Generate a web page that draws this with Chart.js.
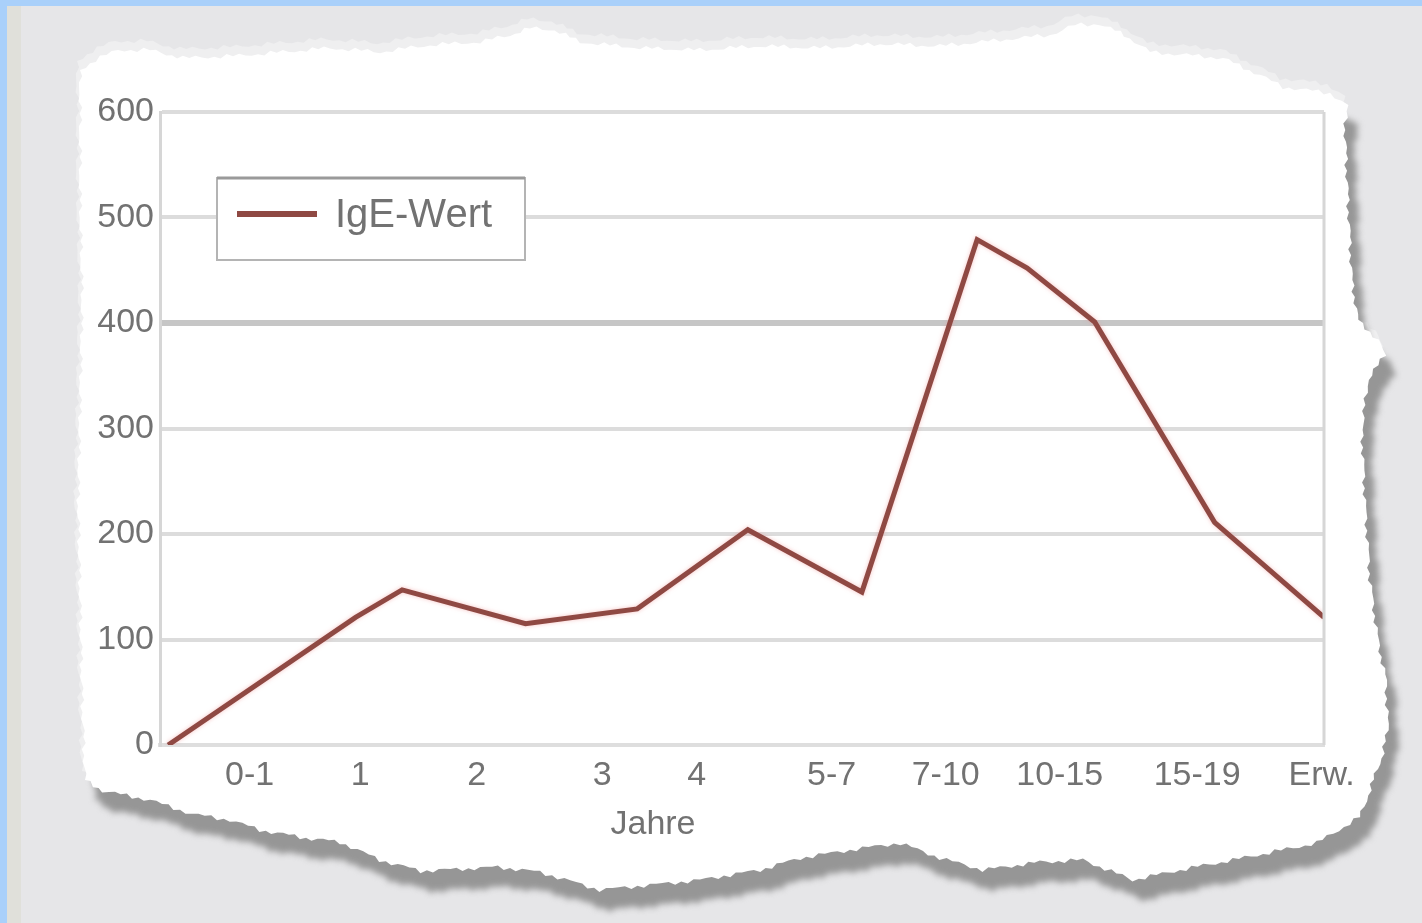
<!DOCTYPE html>
<html lang="de">
<head>
<meta charset="utf-8">
<title>IgE-Wert nach Alter</title>
<script src="https://cdn.jsdelivr.net/npm/chart.js@4/dist/chart.umd.min.js"></script>
<style>
  html, body { margin: 0; padding: 0; background: #e6e6e8; }
  canvas { display: block; }
</style>
</head>
<body>
<canvas id="chart" width="1422" height="923"></canvas>
<script>
// Altersachse: Position (0..100) der Beschriftungen und der Messpunkte
const ageTickPos = [7.7, 17.2, 27.2, 38.0, 46.1, 57.7, 67.5, 77.3, 89.1, 99.8];
const ageTickLabels = ['0-1', '1', '2', '3', '4', '5-7', '7-10', '10-15', '15-19', 'Erw.'];
const agePos = [0.7, 16.8, 20.8, 31.4, 41.0, 50.5, 60.3, 70.2, 74.5, 80.3, 90.6, 100];
const igeValues = [0, 121, 147, 115, 129, 204, 145, 479, 452, 401, 211, 121];
const yTicks = [0, 100, 200, 300, 400, 500, 600];
const xTitle = 'Jahre';

const LINE_COLOR = '#8f4943';
const TEXT_COLOR = '#727272';
const FONT = "'Liberation Sans', Arial, sans-serif";

// Umriss des abgerissenen Papierblatts (Hintergrund)
const paperOutline = [
  [80, 70], [95, 60], [118, 50], [150, 50], [183, 58], [233, 56], [283, 52], [330, 48],
  [380, 52], [430, 45], [480, 42], [510, 35], [530, 28], [555, 30], [580, 42], [640, 48],
  [700, 50], [760, 46], [820, 48], [880, 44], [940, 46], [1000, 40], [1050, 35], [1075, 25],
  [1100, 24], [1125, 35], [1150, 52], [1223, 58], [1260, 75], [1283, 87], [1330, 93], [1347, 105],
  [1345, 130], [1348, 200], [1352, 280], [1358, 320], [1378, 340], [1385, 355], [1368, 380],
  [1362, 430], [1365, 500], [1370, 580], [1378, 640], [1386, 680], [1388, 730], [1383, 753],
  [1370, 790], [1360, 817], [1317, 843], [1233, 860], [1180, 870], [1133, 880], [1083, 860],
  [1040, 862], [983, 870], [940, 858], [900, 843], [850, 850], [800, 858], [760, 870],
  [700, 880], [650, 885], [600, 890], [540, 872], [498, 867], [421, 871], [380, 860],
  [340, 842], [306, 838], [260, 830], [230, 820], [192, 814], [150, 800], [103, 791],
  [85, 780], [82, 700], [80, 600], [78, 500], [80, 400], [82, 300], [80, 200], [80, 120]
];

function tornPath(ctx, pts, dx, dy) {
  ctx.beginPath();
  let k = 0;
  for (let i = 0; i < pts.length; i++) {
    const [x0, y0] = pts[i];
    const [x1, y1] = pts[(i + 1) % pts.length];
    const len = Math.hypot(x1 - x0, y1 - y0);
    const steps = Math.max(1, Math.round(len / 6));
    const nx = -(y1 - y0) / len, ny = (x1 - x0) / len;
    for (let s = 0; s < steps; s++) {
      const t = s / steps;
      const j = Math.sin(k * 2.7) * 1.6 + Math.sin(k * 0.9) * 1.2;
      k++;
      const x = x0 + (x1 - x0) * t + nx * j + dx;
      const y = y0 + (y1 - y0) * t + ny * j + dy;
      if (i === 0 && s === 0) ctx.moveTo(x, y); else ctx.lineTo(x, y);
    }
  }
  ctx.closePath();
}

const paperBackground = {
  id: 'paperBackground',
  beforeDraw(chart) {
    const { ctx, width, height } = chart;
    ctx.save();
    ctx.fillStyle = '#e6e6e8';
    ctx.fillRect(0, 0, width, height);
    ctx.fillStyle = '#e0e0da';
    ctx.fillRect(7, 6, 14, height);
    ctx.fillStyle = '#a9d0fa';
    ctx.fillRect(0, 0, 7, height);
    ctx.fillRect(0, 0, width, 6);

    // helle Fasern am oberen Rand
    ctx.fillStyle = '#efeff0';
    tornPath(ctx, paperOutline, -3, -9);
    ctx.fill();

    // Schatten unten und rechts
    ctx.filter = 'blur(3px)';
    ctx.fillStyle = '#969696';
    tornPath(ctx, paperOutline, 10, 20);
    ctx.fill();
    ctx.filter = 'none';

    ctx.fillStyle = '#ffffff';
    tornPath(ctx, paperOutline, 0, 0);
    ctx.fill();
    ctx.restore();
  },
  afterDraw(chart) {
    const { ctx, chartArea } = chart;
    ctx.save();
    // rechter Rahmen der Zeichenfläche
    ctx.strokeStyle = '#d6d6d6';
    ctx.lineWidth = 3;
    ctx.beginPath();
    ctx.moveTo(chartArea.right, chartArea.top);
    ctx.lineTo(chartArea.right, chartArea.bottom);
    ctx.stroke();
    // Achsentitel unter den Altersgruppen
    ctx.fillStyle = TEXT_COLOR;
    ctx.font = '34px ' + FONT;
    ctx.textAlign = 'center';
    ctx.textBaseline = 'middle';
    ctx.fillText(xTitle, chartArea.left + 493, chartArea.bottom + 80);
    ctx.restore();
  }
};

// leichter rosa Saum um die Linie
const lineGlow = {
  id: 'lineGlow',
  beforeDatasetsDraw(chart) {
    const ctx = chart.ctx;
    ctx.save();
    ctx.shadowColor = 'rgba(240, 150, 150, 0.55)';
    ctx.shadowBlur = 4;
  },
  afterDatasetsDraw(chart) {
    chart.ctx.restore();
  }
};

// Legende als Kasten oben links in der Zeichenfläche
const boxLegend = {
  id: 'boxLegend',
  afterDraw(chart) {
    const { ctx, chartArea } = chart;
    const ds = chart.data.datasets[0];
    const x = chartArea.left + 57, y = chartArea.top + 66, w = 308, h = 82;
    ctx.save();
    ctx.fillStyle = '#ffffff';
    ctx.fillRect(x, y, w, h);
    ctx.strokeStyle = '#b4b4b4';
    ctx.lineWidth = 2;
    ctx.strokeRect(x, y, w, h);
    ctx.strokeStyle = '#9a9a9a';
    ctx.lineWidth = 3;
    ctx.beginPath();
    ctx.moveTo(x, y);
    ctx.lineTo(x + w, y);
    ctx.stroke();
    ctx.strokeStyle = ds.borderColor;
    ctx.lineWidth = 6;
    ctx.beginPath();
    ctx.moveTo(x + 20, y + h / 2 - 5);
    ctx.lineTo(x + 100, y + h / 2 - 5);
    ctx.stroke();
    ctx.fillStyle = TEXT_COLOR;
    ctx.font = '40px ' + FONT;
    ctx.textBaseline = 'middle';
    ctx.fillText(ds.label, x + 118, y + h / 2 - 3);
    ctx.restore();
  }
};

new Chart(document.getElementById('chart'), {
  type: 'line',
  data: {
    datasets: [{
      label: 'IgE-Wert',
      data: agePos.map((x, i) => ({ x: x, y: igeValues[i] })),
      borderColor: LINE_COLOR,
      borderWidth: 5,
      pointRadius: 0,
      tension: 0,
      fill: false
    }]
  },
  options: {
    responsive: false,
    animation: false,
    devicePixelRatio: 1,
    layout: { padding: { left: 0, top: 112, right: 98, bottom: 78 } },
    plugins: {
      legend: { display: false },
      tooltip: { enabled: false }
    },
    scales: {
      x: {
        type: 'linear',
        min: 0,
        max: 100,
        afterBuildTicks: (s) => { s.ticks = ageTickPos.map(v => ({ value: v })); },
        afterFit: (s) => { s.height = 100; },
        ticks: {
          autoSkip: false,
          maxRotation: 0,
          padding: 10,
          color: TEXT_COLOR,
          font: { family: FONT, size: 34 },
          callback: (v, i) => ageTickLabels[i]
        },
        grid: { display: false, drawTicks: false },
        border: { display: true, color: '#dedede', width: 4 }
      },
      y: {
        min: 0,
        max: 600,
        afterBuildTicks: (s) => { s.ticks = yTicks.map(v => ({ value: v })); },
        afterFit: (s) => { s.width = 160; },
        ticks: {
          padding: 6,
          color: TEXT_COLOR,
          font: { family: FONT, size: 34 }
        },
        grid: {
          drawTicks: false,
          color: (c) => (c.tick && c.tick.value === 400 ? '#c6c6c6' : '#dcdcdc'),
          lineWidth: (c) => (c.tick && c.tick.value === 400 ? 6 : 4)
        },
        border: { display: true, color: '#d6d6d6', width: 3 }
      }
    }
  },
  plugins: [paperBackground, lineGlow, boxLegend]
});
</script>
</body>
</html>
